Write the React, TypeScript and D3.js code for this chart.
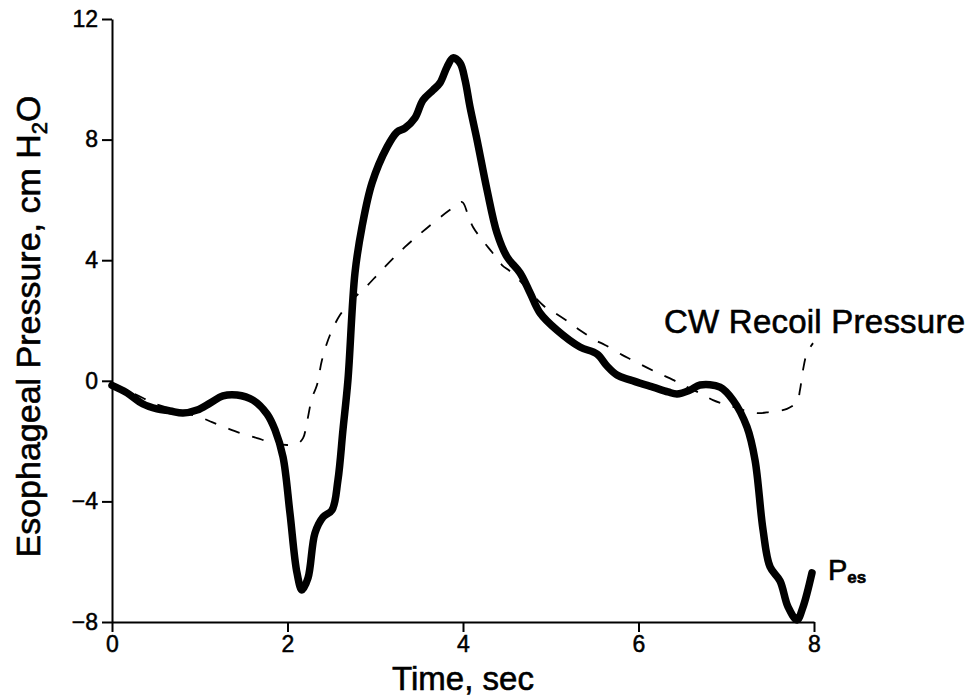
import React, { useEffect, useRef } from "react";
import * as d3 from "d3";

const xTicks = [0, 2, 4, 6, 8];
const yTicks = [-8, -4, 0, 4, 8, 12];

const pesT = [0, 0.171, 0.353, 0.513, 0.661, 0.809, 0.969, 1.117, 1.265, 1.425, 1.607, 1.767, 1.858, 1.949, 2.028, 2.108, 2.165, 2.234, 2.313, 2.405, 2.507, 2.575, 2.632, 2.689, 2.769, 2.849, 2.963, 3.134, 3.248, 3.339, 3.453, 3.544, 3.658, 3.738, 3.818, 3.886, 3.966, 4.023, 4.08, 4.16, 4.274, 4.388, 4.502, 4.65, 4.764, 4.878, 5.071, 5.333, 5.527, 5.641, 5.755, 5.903, 6.165, 6.336, 6.439, 6.587, 6.701, 6.929, 7.077, 7.236, 7.328, 7.419, 7.499, 7.613, 7.704, 7.807, 7.875, 7.977];
const pesV = [-0.15, -0.4, -0.77, -0.93, -1.0, -1.07, -0.97, -0.74, -0.5, -0.47, -0.64, -1.1, -1.63, -2.53, -4.39, -6.37, -6.94, -6.54, -5.05, -4.52, -4.29, -3.29, -1.63, 0.03, 3.58, 5.1, 6.56, 7.75, 8.25, 8.38, 8.72, 9.31, 9.64, 9.88, 10.41, 10.71, 10.54, 9.98, 9.08, 7.99, 6.33, 4.9, 4.11, 3.58, 2.92, 2.25, 1.68, 1.12, 0.89, 0.49, 0.19, 0.03, -0.21, -0.37, -0.44, -0.31, -0.14, -0.21, -0.64, -1.53, -2.63, -4.94, -6.17, -6.64, -7.5, -7.93, -7.5, -6.37];

const cwT = [0, 0.353, 0.467, 1.003, 1.14, 1.311, 1.459, 1.653, 1.801, 1.994, 2.108, 2.177, 2.222, 2.279, 2.336, 2.393, 2.484, 2.598, 2.735, 2.883, 3.077, 3.339, 3.59, 3.852, 3.989, 4.057, 4.114, 4.228, 4.33, 4.444, 4.558, 4.934, 5.048, 5.219, 5.333, 5.504, 5.618, 5.812, 5.926, 6.108, 6.222, 6.393, 6.507, 6.701, 6.849, 7.009, 7.351, 7.499, 7.692, 7.806, 7.84, 7.875, 7.92, 7.989];
const cwV = [-0.1, -0.57, -0.74, -1.21, -1.37, -1.57, -1.73, -1.9, -2.03, -2.13, -2.1, -1.9, -1.37, -0.57, -0.14, 0.69, 1.52, 2.18, 2.68, 3.08, 3.68, 4.44, 5.07, 5.67, 5.93, 5.5, 5.1, 4.64, 4.27, 3.84, 3.58, 2.45, 2.25, 1.92, 1.68, 1.35, 1.19, 0.86, 0.69, 0.42, 0.26, 0.03, -0.14, -0.41, -0.64, -0.8, -1.07, -1.03, -0.93, -0.7, -0.31, 0.36, 0.92, 1.25];

const FONT = "'Liberation Sans', Arial, Helvetica, sans-serif";

export default function App() {
  const ref = useRef<SVGSVGElement | null>(null);

  useEffect(() => {
    const svg = d3.select(ref.current);
    svg.selectAll("*").remove();

    const x = d3.scaleLinear().domain([0, 8]).range([112, 814]);
    const y = d3.scaleLinear().domain([-8, 12]).range([622, 19]);

    const xAxis = svg
      .append("g")
      .attr("transform", `translate(0,${y(-8)})`)
      .call(d3.axisBottom(x).tickValues(xTicks).tickSize(10).tickSizeOuter(0).tickPadding(4));
    const yAxis = svg
      .append("g")
      .attr("transform", `translate(${x(0)},0)`)
      .call(
        d3
          .axisLeft(y)
          .tickValues(yTicks)
          .tickSize(10)
          .tickSizeOuter(0)
          .tickPadding(4)
          .tickFormat((d: any) => (d < 0 ? "\u2212" + Math.abs(d) : String(d)))
      );
    [xAxis, yAxis].forEach((g) => {
      g.select(".domain").attr("stroke", "#000").attr("stroke-width", 2);
      g.selectAll(".tick line").attr("stroke", "#000").attr("stroke-width", 2);
      g.selectAll(".tick text")
        .attr("fill", "#000")
        .attr("stroke", "#000")
        .attr("stroke-width", 0.5)
        .style("font-family", FONT)
        .style("font-size", "23px");
    });

    const cwData = cwT.map((t, i) => [t, cwV[i]] as [number, number]);
    const pesData = pesT.map((t, i) => [t, pesV[i]] as [number, number]);

    const line = d3
      .line<[number, number]>()
      .x((d) => x(d[0]))
      .y((d) => y(d[1]))
      .curve(d3.curveCatmullRom.alpha(0.5));

    svg
      .append("path")
      .datum(cwData)
      .attr("d", line)
      .attr("fill", "none")
      .attr("stroke", "#000")
      .attr("stroke-width", 1.8)
      .attr("stroke-dasharray", "12 13");

    svg
      .append("path")
      .datum(pesData)
      .attr("d", line)
      .attr("fill", "none")
      .attr("stroke", "#000")
      .attr("stroke-width", 7.5)
      .attr("stroke-linecap", "round")
      .attr("stroke-linejoin", "round");

    const bold = (sel: any) => sel.attr("stroke", "#000").attr("stroke-width", 0.6);

    bold(
      svg
        .append("text")
        .attr("x", (x(0) + x(8)) / 2)
        .attr("y", 690)
        .attr("text-anchor", "middle")
        .style("font-family", FONT)
        .style("font-size", "33px")
        .text("Time, sec")
    );

    const yt = svg
      .append("text")
      .attr("transform", `translate(40,${(y(-8) + y(12)) / 2 + 6}) rotate(-90)`)
      .attr("text-anchor", "middle")
      .style("font-family", FONT)
      .style("font-size", "34px");
    bold(yt);
    yt.append("tspan").text("Esophageal Pressure, cm H");
    yt.append("tspan").attr("dy", 7).style("font-size", "22px").text("2");
    yt.append("tspan").attr("dy", -7).text("O");

    bold(
      svg
        .append("text")
        .attr("x", 664)
        .attr("y", 333)
        .attr("textLength", 301)
        .style("font-family", FONT)
        .style("font-size", "33px")
        .text("CW Recoil Pressure")
    );

    const pl = svg
      .append("text")
      .attr("x", 828)
      .attr("y", 580)
      .style("font-family", FONT)
      .style("font-size", "29px");
    bold(pl);
    pl.append("tspan").text("P");
    pl.append("tspan")
      .attr("dy", 3)
      .style("font-size", "17px")
      .style("font-weight", "bold")
      .text("es");
  }, []);

  return (
    <svg
      ref={ref}
      width={970}
      height={697}
      style={{ position: "absolute", left: 0, top: 0, background: "#fff" }}
    />
  );
}
